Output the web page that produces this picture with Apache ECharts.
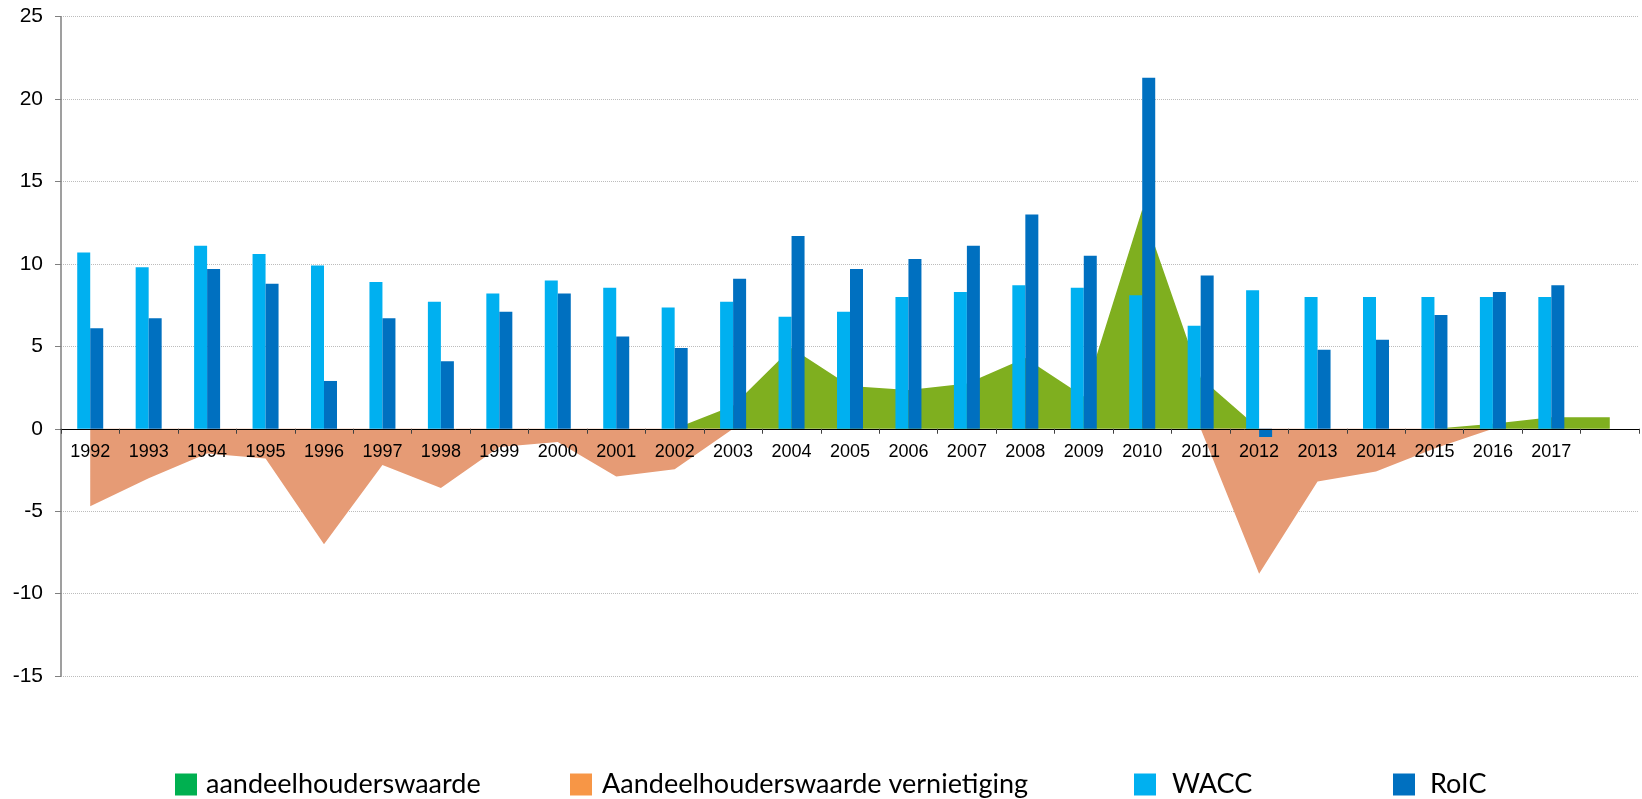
<!DOCTYPE html>
<html>
<head>
<meta charset="utf-8">
<script src="https://cdn.jsdelivr.net/npm/echarts@6/dist/echarts.min.js"></script>
<style>
  html, body { margin: 0; padding: 0; background: #fff; }
  #chart { width: 1642px; height: 799px; }
</style>
</head>
<body>
<div id="chart"></div>
<script>
// jaren, laatste categorie is leeg (area loopt door tot daar)
const years = ['1992', '1993', '1994', '1995', '1996', '1997', '1998', '1999', '2000', '2001',
  '2002', '2003', '2004', '2005', '2006', '2007', '2008', '2009', '2010', '2011',
  '2012', '2013', '2014', '2015', '2016', '2017', '']

const wacc = [10.7, 9.8, 11.1, 10.6, 9.9, 8.9, 7.7, 8.2, 9.0, 8.55,
  7.35, 7.7, 6.8, 7.1, 8.0, 8.3, 8.7, 8.55, 8.1, 6.25,
  8.4, 8.0, 8.0, 8.0, 8.0, 8.0, null]

const roic = [6.1, 6.7, 9.7, 8.8, 2.9, 6.7, 4.1, 7.1, 8.2, 5.6,
  4.9, 9.1, 11.7, 9.7, 10.3, 11.1, 13.0, 10.5, 21.3, 9.3,
  -0.5, 4.8, 5.4, 6.9, 8.3, 8.7, null]

const waardeCreatie = [0, 0, 0, 0, 0, 0, 0, 0, 0, 0,
  0, 1.4, 4.9, 2.6, 2.35, 2.75, 4.3, 1.95, 13.3, 3.1,
  0, 0, 0, 0, 0.3, 0.7, 0.7]

const waardeVernietiging = [-4.7, -3.0, -1.5, -1.8, -7.0, -2.2, -3.6, -1.1, -0.8, -2.9,
  -2.45, 0, 0, 0, 0, 0, 0, 0, 0, 0,
  -8.8, -3.2, -2.6, -1.2, 0, 0, 0]

const yTicks = { min: -15, max: 25, interval: 5 }

const myChart = echarts.init(document.getElementById('chart'))

// grid in pixels, nodig om de x-as op de nullijn te zetten
const gridTop = 16.7
const gridBottom = 123
const plotHeight = 799 - gridTop - gridBottom
const zeroOffset = plotHeight * (0 - yTicks.min) / (yTicks.max - yTicks.min)

const legendBase = {
  top: 766,
  itemWidth: 22,
  itemHeight: 22,
  icon: 'rect',
  selectedMode: false,
  textStyle: { fontFamily: 'Lato', fontSize: 27, color: '#000' }
}

function legendAt(left, name, color, gap) {
  return Object.assign({}, legendBase, {
    left: left,
    data: [{ name: name, itemStyle: { color: color } }],
    textStyle: Object.assign({}, legendBase.textStyle, { padding: [0, 0, 0, gap] })
  })
}

const option = {
  animation: false,
  grid: { left: 61, right: 3, top: gridTop, bottom: gridBottom },
  legend: [
    legendAt(170, 'aandeelhouderswaarde', '#00B050', 4),
    legendAt(565, 'Aandeelhouderswaarde vernietiging', '#F79646', 5),
    legendAt(1129, 'WACC', '#00B0F0', 11),
    legendAt(1388, 'RoIC', '#0070C0', 10)
  ],
  xAxis: {
    type: 'category',
    data: years,
    boundaryGap: true,
    position: 'bottom',
    offset: -zeroOffset,
    z: 5,
    axisLine: { onZero: false, lineStyle: { color: '#000', width: 1 } },
    axisTick: { show: true, length: 5, lineStyle: { color: '#404040' } },
    axisLabel: {
      interval: 0,
      margin: 14,
      fontFamily: 'Liberation Sans',
      fontSize: 18,
      color: '#000'
    },
    splitLine: { show: false }
  },
  yAxis: {
    type: 'value',
    min: yTicks.min,
    max: yTicks.max,
    interval: yTicks.interval,
    axisLine: { show: true, lineStyle: { color: '#7f7f7f', width: 1.5 } },
    axisTick: { show: true, length: 6, lineStyle: { color: '#7f7f7f' } },
    axisLabel: {
      margin: 18,
      fontFamily: 'Liberation Sans',
      fontSize: 21,
      color: '#000'
    },
    splitLine: { lineStyle: { type: 'dotted', color: '#bcbcbc', width: 1 } }
  },
  series: [
    {
      name: 'aandeelhouderswaarde',
      type: 'line',
      data: waardeCreatie,
      symbol: 'none',
      z: 1,
      color: '#7FAF1F',
      lineStyle: { width: 0, opacity: 0 },
      areaStyle: { color: '#7FAF1F', opacity: 1 }
    },
    {
      name: 'Aandeelhouderswaarde vernietiging',
      type: 'line',
      data: waardeVernietiging,
      symbol: 'none',
      z: 1,
      color: '#E69B75',
      lineStyle: { width: 0, opacity: 0 },
      areaStyle: { color: '#E69B75', opacity: 1 }
    },
    {
      name: 'WACC',
      type: 'bar',
      data: wacc,
      barWidth: 13,
      barGap: '0%',
      z: 3,
      itemStyle: { color: '#00B0F0' }
    },
    {
      name: 'RoIC',
      type: 'bar',
      data: roic,
      barWidth: 13,
      barGap: '0%',
      z: 3,
      itemStyle: { color: '#0070C0' }
    }
  ]
}

option && myChart.setOption(option)
</script>
</body>
</html>
